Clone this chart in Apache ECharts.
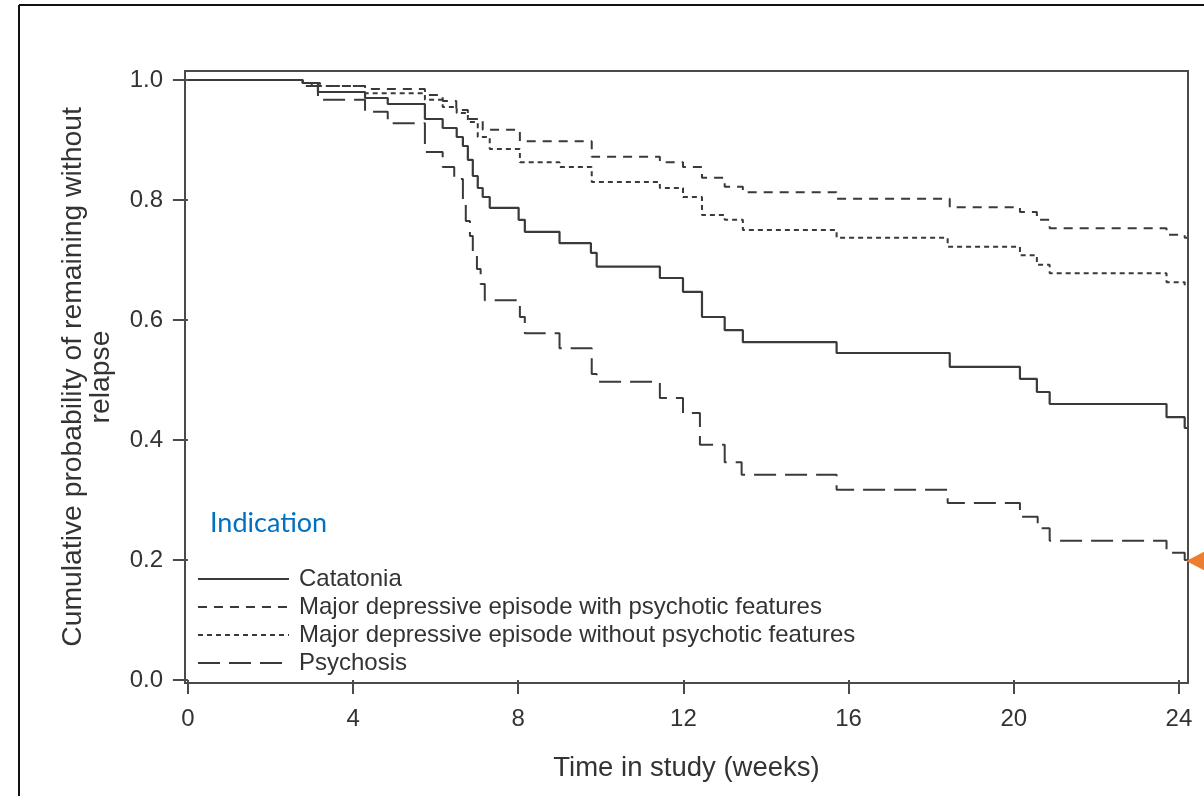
<!DOCTYPE html>
<html>
<head>
<meta charset="utf-8">
<script src="https://cdn.jsdelivr.net/npm/echarts@6/dist/echarts.min.js"></script>
<style>
  html, body { margin: 0; padding: 0; background: #ffffff; }
  #chart { width: 1204px; height: 796px; }
</style>
</head>
<body>
<div id="chart"></div>
<script>
// Kaplan-Meier estimates: time of each step (weeks) and probability held from that time on
const weekTicks = [0, 4, 8, 12, 16, 20, 24];
const probTicks = [0, 0.2, 0.4, 0.6, 0.8, 1.0];

const seriesNames = [
  'Catatonia',
  'Major depressive episode with psychotic features',
  'Major depressive episode without psychotic features',
  'Psychosis'
];

const catatoniaWeeks = [0, 2.78, 3.15, 4.29, 4.84, 5.74, 6.17, 6.51, 6.66, 6.78, 6.9, 7.02, 7.14, 7.31, 8.01, 8.16, 9.0, 9.76, 9.9, 11.43, 11.99, 12.45, 13.0, 13.44, 15.71, 18.45, 20.15, 20.56, 20.87, 23.7, 24.14, 24.2];
const catatoniaSurv  = [1.0, 0.995, 0.98, 0.97, 0.96, 0.935, 0.92, 0.905, 0.89, 0.867, 0.84, 0.82, 0.805, 0.787, 0.767, 0.747, 0.728, 0.712, 0.689, 0.67, 0.647, 0.605, 0.583, 0.563, 0.545, 0.522, 0.502, 0.48, 0.46, 0.438, 0.42, 0.42];

const mdePsyWeeks = [0, 2.78, 3.2, 4.29, 5.74, 6.17, 6.5, 6.78, 7.14, 8.04, 9.78, 11.43, 11.99, 12.45, 13.0, 13.44, 15.71, 18.45, 20.15, 20.56, 20.87, 23.7, 24.14, 24.2];
const mdePsySurv  = [1.0, 0.995, 0.99, 0.985, 0.975, 0.965, 0.95, 0.935, 0.917, 0.898, 0.872, 0.863, 0.855, 0.837, 0.822, 0.813, 0.802, 0.788, 0.78, 0.767, 0.753, 0.742, 0.737, 0.737];

const mdeNoPsyWeeks = [0, 2.78, 3.0, 4.29, 5.74, 6.17, 6.51, 6.78, 7.02, 7.31, 8.04, 9.0, 9.78, 11.43, 11.99, 12.45, 13.0, 13.44, 15.71, 18.4, 20.15, 20.56, 20.87, 23.7, 24.14, 24.2];
const mdeNoPsySurv  = [1.0, 0.995, 0.99, 0.978, 0.967, 0.955, 0.945, 0.93, 0.905, 0.885, 0.863, 0.855, 0.83, 0.82, 0.805, 0.775, 0.767, 0.75, 0.737, 0.722, 0.708, 0.692, 0.678, 0.663, 0.658, 0.658];

const psychosisWeeks = [0, 2.8, 3.15, 4.29, 4.84, 5.74, 6.17, 6.45, 6.66, 6.73, 6.83, 6.9, 7.0, 7.09, 7.19, 8.04, 8.16, 9.0, 9.78, 9.9, 11.43, 11.99, 12.4, 13.0, 13.41, 15.71, 18.4, 20.15, 20.58, 20.87, 23.7, 24.14, 24.2];
const psychosisSurv  = [1.0, 0.99, 0.967, 0.947, 0.928, 0.88, 0.855, 0.835, 0.8, 0.765, 0.74, 0.71, 0.685, 0.66, 0.633, 0.605, 0.578, 0.553, 0.51, 0.497, 0.47, 0.445, 0.392, 0.363, 0.342, 0.317, 0.295, 0.272, 0.253, 0.232, 0.212, 0.2, 0.2];

const curveWeeks = [catatoniaWeeks, mdePsyWeeks, mdeNoPsyWeeks, psychosisWeeks];
const curveSurv = [catatoniaSurv, mdePsySurv, mdeNoPsySurv, psychosisSurv];
const curveDash = ['solid', [9, 7], [5, 4], [22, 9]];

const INK = '#3a3a3a';
const AXIS_FONT = '"Liberation Sans", Arial, sans-serif';

function pairs(xs, ys) {
  return xs.map((x, i) => [x, ys[i]]);
}

const chart = echarts.init(document.getElementById('chart'), null, { renderer: 'canvas' });

const option = {
  animation: false,
  backgroundColor: '#ffffff',
  grid: {
    left: 185, top: 71, width: 1003, height: 612,
    show: true, borderColor: '#4a4a4a', borderWidth: 2, backgroundColor: 'transparent'
  },
  xAxis: {
    type: 'value', min: -0.07, max: 24.22,
    name: 'Time in study (weeks)',
    nameLocation: 'middle', nameGap: 71,
    nameTextStyle: { fontFamily: AXIS_FONT, fontSize: 27.5, color: '#333' },
    axisLine: { show: false },
    splitLine: { show: false },
    axisTick: { show: true, length: 14, customValues: weekTicks, lineStyle: { color: '#4a4a4a', width: 2 } },
    axisLabel: { customValues: weekTicks, margin: 24, fontFamily: AXIS_FONT, fontSize: 24, color: '#333' }
  },
  yAxis: {
    type: 'value', min: -0.005, max: 1.015,
    name: 'Cumulative probability of remaining without\nrelapse',
    nameLocation: 'middle', nameGap: 70, nameRotate: 90,
    nameTextStyle: { fontFamily: AXIS_FONT, fontSize: 28.3, color: '#333', lineHeight: 28, align: 'center' },
    axisLine: { show: false },
    splitLine: { show: false },
    axisTick: { show: true, length: 15, customValues: probTicks, lineStyle: { color: '#4a4a4a', width: 2 } },
    axisLabel: {
      customValues: probTicks, margin: 22, fontFamily: AXIS_FONT, fontSize: 24, color: '#333',
      formatter: v => v.toFixed(1)
    }
  },
  legend: {
    left: 192, top: 562, orient: 'vertical',
    itemWidth: 91, itemHeight: 14, itemGap: 4,
    selectedMode: false,
    itemStyle: { opacity: 0 },
    textStyle: { fontFamily: AXIS_FONT, fontSize: 24, color: '#333', lineHeight: 24, padding: [0, 0, 0, 5] },
    data: seriesNames
  },
  series: seriesNames.map((name, i) => ({
    name,
    type: 'line',
    step: 'end',
    symbol: 'none',
    data: pairs(curveWeeks[i], curveSurv[i]),
    lineStyle: { color: INK, width: i === 0 ? 2.2 : 2, type: curveDash[i] },
    itemStyle: { color: INK },
    z: 3
  })),
  graphic: []
};

chart.setOption(option);

// Annotations: outer frame, group heading, and the pointer on the last psychosis estimate
const lastIdx = psychosisWeeks.length - 1;
const tip = chart.convertToPixel({ gridIndex: 0 }, [psychosisWeeks[lastIdx], psychosisSurv[lastIdx]]);
const W = chart.getWidth();
const H = chart.getHeight();

chart.setOption({
  graphic: [
    { type: 'line', shape: { x1: 19, y1: 5, x2: W, y2: 5 }, style: { stroke: '#111', lineWidth: 2 } },
    { type: 'line', shape: { x1: 19, y1: 5, x2: 19, y2: H }, style: { stroke: '#111', lineWidth: 2 } },
    {
      type: 'text', left: 210, top: 510,
      style: { text: 'Indication', font: '27px Lato, "Open Sans", sans-serif', fill: '#0070c0' }
    },
    {
      type: 'polygon',
      shape: { points: [[tip[0] - 1, tip[1] + 1], [tip[0] + 24, tip[1] - 12], [tip[0] + 24, tip[1] + 14]] },
      style: { fill: '#ed7d31' },
      z: 10
    }
  ]
});
</script>
</body>
</html>
